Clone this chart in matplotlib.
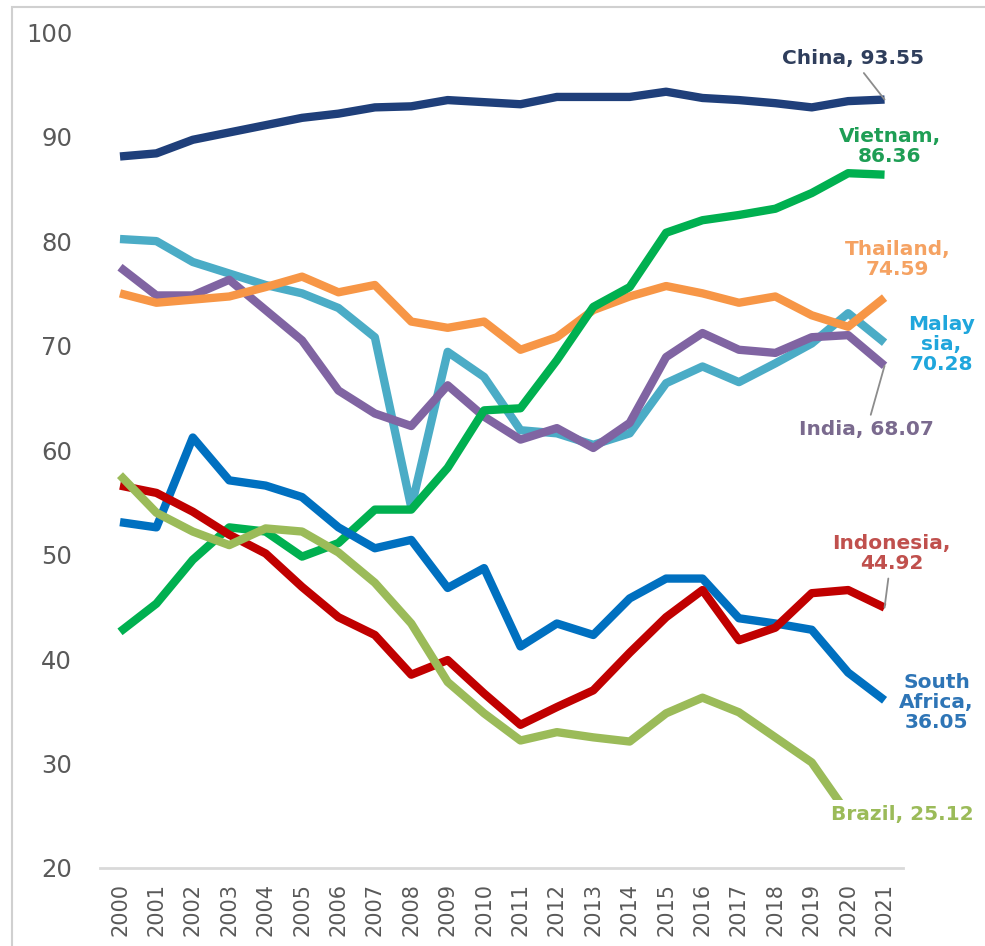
import numpy as np
import matplotlib
matplotlib.use("Agg")
import matplotlib.pyplot as plt
from matplotlib.patches import Rectangle

# years on the x axis
years = list(range(2000, 2022))

# values
china = [88.1, 88.4, 89.7, 90.4, 91.1, 91.8, 92.2, 92.8, 92.9, 93.5, 93.3,
         93.1, 93.8, 93.8, 93.8, 94.3, 93.7, 93.5, 93.2, 92.8, 93.4, 93.55]
vietnam = [42.6, 45.3, 49.5, 52.6, 52.2, 49.8, 51.1, 54.3, 54.3, 58.3, 63.8,
           64.0, 68.6, 73.7, 75.6, 80.8, 82.0, 82.5, 83.1, 84.6, 86.5, 86.36]
thailand = [75.0, 74.1, 74.4, 74.7, 75.6, 76.6, 75.1, 75.8, 72.3, 71.7, 72.3,
            69.6, 70.8, 73.4, 74.7, 75.7, 75.0, 74.1, 74.7, 72.9, 71.8, 74.59]
malaysia = [80.2, 80.0, 78.0, 76.9, 75.8, 75.0, 73.6, 70.8, 54.5, 69.4, 67.0,
            61.9, 61.6, 60.5, 61.6, 66.4, 68.0, 66.5, 68.3, 70.2, 73.1, 70.28]
india = [77.5, 74.8, 74.8, 76.3, 73.4, 70.5, 65.7, 63.5, 62.3, 66.2, 63.2,
         61.0, 62.1, 60.2, 62.6, 68.9, 71.2, 69.6, 69.3, 70.8, 71.0, 68.07]
south_africa = [53.1, 52.6, 61.2, 57.1, 56.6, 55.5, 52.6, 50.6, 51.4, 46.8, 48.7,
                41.2, 43.4, 42.3, 45.8, 47.7, 47.7, 43.9, 43.4, 42.8, 38.7, 36.05]
indonesia = [56.6, 55.9, 54.1, 51.9, 50.1, 46.9, 44.0, 42.3, 38.5, 39.9, 36.7,
             33.7, 35.4, 37.0, 40.6, 44.0, 46.6, 41.8, 43.0, 46.3, 46.6, 44.92]
brazil = [57.6, 54.0, 52.2, 50.9, 52.5, 52.2, 50.2, 47.3, 43.4, 37.8, 34.8,
          32.2, 33.0, 32.5, 32.1, 34.8, 36.3, 34.9, 32.5, 30.1, 25.12, np.nan]

# name, values, line colour, label text, label colour, label offset (px), leader line
series = [
    ("Malaysia", malaysia, "#4BACC6", "Malay\nsia,\n70.28", "#1FA6DC", (57, -2), False),
    ("India", india, "#8064A2", "India, 68.07", "#7A6A8E", (-18, -64), True),
    ("Thailand", thailand, "#F79646", "Thailand,\n74.59", "#F5A262", (13, 38), False),
    ("Vietnam", vietnam, "#00B050", "Vietnam,\n86.36", "#1E9E55", (5, 28), False),
    ("China", china, "#1F3F7A", "China, 93.55", "#2F3E5C", (-32, 41), True),
    ("South Africa", south_africa, "#0070C0", "South\nAfrica,\n36.05", "#2E75B6", (52, -2), False),
    ("Indonesia", indonesia, "#C00000", "Indonesia,\n44.92", "#C0504D", (7, 54), True),
    ("Brazil", brazil, "#9BBB59", "Brazil, 25.12", "#9BBB59", (54, 0), False),
]

fig = plt.figure(figsize=(9.85, 9.46), dpi=100)
ax = fig.add_axes([0.1015, 0.0825, 0.815, 0.8835])

x = np.arange(len(years))
for name, vals, col, lab, lab_col, off, leader in series:
    v = np.array(vals, dtype=float)
    ax.plot(x, v, color=col, lw=6, solid_capstyle="butt", solid_joinstyle="round")
    last = np.where(~np.isnan(v))[0][-1]
    arrow = dict(arrowstyle="-", color="#8C8C8C", lw=1.3, shrinkA=2, shrinkB=0) if leader else None
    ax.annotate(lab, xy=(x[last], v[last]), xytext=off, textcoords="offset pixels",
                ha="center", va="center", fontsize=14.5, fontweight="bold",
                color=lab_col, linespacing=1.05, arrowprops=arrow, zorder=5,
                bbox=dict(boxstyle="square,pad=0.25", fc="white", ec="none") if name == "Brazil" else None)

ax.set_xlim(-0.55, 21.5)
ax.set_ylim(20, 100)
ax.set_yticks(range(20, 101, 10))
ax.set_xticks(x)
ax.set_xticklabels([str(y) for y in years], rotation=90)
ax.tick_params(axis="y", length=0, pad=20, labelsize=17.5, labelcolor="#595959")
ax.tick_params(axis="x", length=0, pad=11, labelsize=15, labelcolor="#595959")
for s in ["top", "right", "left"]:
    ax.spines[s].set_visible(False)
ax.spines["bottom"].set_color("#D9D9D9")
ax.spines["bottom"].set_linewidth(2)

# light frame on the left and top edge of the picture
fig.patches.append(Rectangle((12 / 985, -0.05), 1.2, (946 - 7) / 946 + 0.05,
                             transform=fig.transFigure, fill=False,
                             ec="#D0D0D0", lw=1.5))

fig.savefig("out.png", dpi=100)
